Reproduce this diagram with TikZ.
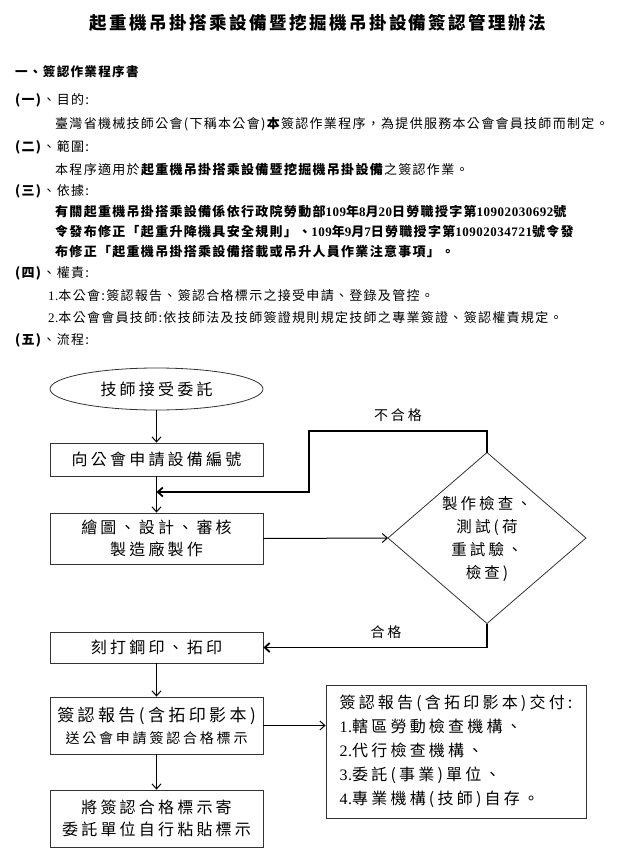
\documentclass[tikz,border=0pt]{standalone}
\usepackage{fontspec}
\usetikzlibrary{positioning,shapes.geometric,arrows.meta}
\newfontfamily\bodyfont[LetterSpace=10]{Noto Sans CJK TC}
\newfontfamily\titlefont[LetterSpace=14]{Noto Sans CJK TC}
\newfontfamily\flowfont[LetterSpace=20]{Noto Sans CJK TC}
\newfontfamily\numfont[LetterSpace=4]{Liberation Serif}
\newcommand{\Num}[1]{{\numfont #1}}

\tikzset{
	txt/.style={anchor=west, inner sep=0pt, font=\bodyfont\fontsize{13}{16}\selectfont},
	box/.style={draw=black!80, line width=0.8pt, minimum width=213pt, inner sep=0pt, align=center, font=\flowfont\fontsize{16}{22}\selectfont},
	flowtext/.style={inner sep=0pt, align=center, font=\flowfont\fontsize{15.5}{23}\selectfont},
	flow/.style={->, line width=1pt},
	loop/.style={->, line width=1.8pt},
	>={Straight Barb[length=5pt,width=9pt]},
}

\begin{document}
\begin{tikzpicture}[x=1pt,y=-1pt]
	\useasboundingbox (0,0) rectangle (616,858);
	\pgfmathsetmacro{\BoxX}{156.5}
	\pgfmathsetmacro{\TextX}{55}
	\pgfmathsetmacro{\HeadX}{15}

	% header text
	\node[inner sep=0pt, font=\titlefont\bfseries\fontsize{17.5}{20}\selectfont] (Title) at (318,23) {起重機吊掛搭乘設備暨挖掘機吊掛設備簽認管理辦法};
	\node[txt, font=\bodyfont\bfseries\fontsize{12.6}{16}\selectfont] (Heading) at (\HeadX,72) {一、簽認作業程序書};

	\node[txt] (PurposeHead) at (\HeadX,100) {\textbf{(一)}、目的:};
	\node[txt] (Purpose) at (\TextX,124) {臺灣省機械技師公會(下稱本公會)\textbf{本}簽認作業程序，為提供服務本公會會員技師而制定。};
	\node[txt] (ScopeHead) at (\HeadX,147) {\textbf{(二)}、範圍:};
	\node[txt] (Scope) at (\TextX,170) {本程序適用於\textbf{起重機吊掛搭乘設備暨挖掘機吊掛設備}之簽認作業。};
	\node[txt] (BasisHead) at (\HeadX,191) {\textbf{(三)}、依據:};
	\node[txt, font=\bodyfont\bfseries\fontsize{13}{16}\selectfont] (BasisA) at (\TextX,212) {有關起重機吊掛搭乘設備係依行政院勞動部\Num{109}年\Num{8}月\Num{20}日勞職授字第\Num{10902030692}號};
	\node[txt, font=\bodyfont\bfseries\fontsize{13}{16}\selectfont] (BasisB) at (\TextX,232) {令發布修正「起重升降機具安全規則」、\Num{109}年\Num{9}月\Num{7}日勞職授字第\Num{10902034721}號令發};
	\node[txt, font=\bodyfont\bfseries\fontsize{13}{16}\selectfont] (BasisC) at (\TextX,252) {布修正「起重機吊掛搭乘設備搭載或吊升人員作業注意事項」。};
	\node[txt] (DutyHead) at (\HeadX,273) {\textbf{(四)}、權責:};
	\node[txt] (DutyA) at (48,296) {\Num{1.}本公會:簽認報告、簽認合格標示之接受申請、登錄及管控。};
	\node[txt] (DutyB) at (48,318) {\Num{2.}本公會會員技師:依技師法及技師簽證規則規定技師之專業簽證、簽認權責規定。};
	\node[txt] (FlowHead) at (\HeadX,340) {\textbf{(五)}、流程:};

	% flow chart
	\node[box, ellipse, minimum height=42pt] (Start) at (\BoxX,389) {技師接受委託};
	\node[box, minimum height=33pt] (Apply) at (\BoxX,459.5) {向公會申請設備編號};
	\node[box, minimum height=51pt] (Design) at (\BoxX,538.5) {繪圖、設計、審核\\製造廠製作};
	\node[box, minimum height=31pt] (Stamp) at (\BoxX,647.5) {刻打鋼印、拓印};
	\node[box, minimum height=57pt] (Report) at (\BoxX,725.5) {{\fontsize{17}{22}\selectfont 簽認報告(含拓印影本)}\\{\fontsize{14}{20}\selectfont 送公會申請簽認合格標示}};
	\node[box, minimum height=57pt] (Label) at (\BoxX,818.5) {將簽認合格標示寄\\委託單位自行粘貼標示};
	\node[box, minimum width=260pt, minimum height=133pt, align=left, font=\flowfont\fontsize{16}{24}\selectfont] (Deliver) at (456,751.5) {簽認報告(含拓印影本)交付:\\\Num{1.}轄區勞動檢查機構、\\\Num{2.}代行檢查機構、\\\Num{3.}委託(事業)單位、\\\Num{4.}專業機構(技師)自存。};

	\coordinate (CheckTop) at (487,452.5);
	\coordinate (CheckRight) at (586,538);
	\coordinate (CheckBottom) at (487,623.5);
	\coordinate (CheckLeft) at (388,538);
	\draw[draw=black!80, line width=0.8pt] (CheckTop) -- (CheckRight) -- (CheckBottom) -- (CheckLeft) -- cycle;
	\node[flowtext] (Check) at (487,539) {製作檢查、\\測試(荷\\重試驗、\\檢查)};

	\draw[flow] (Start) -- (Apply);
	\draw[flow] (Apply) -- (Design);
	\draw[flow] (Design.east) -- (CheckLeft);
	\draw[flow] (Stamp) -- (Report);
	\draw[flow] (Report) -- (Label);
	\draw[flow] (Report.east) -- (Report.east -| Deliver.west);

	% fail and pass
	\coordinate (FailCorner) at (309,431);
	\coordinate (Join) at (\BoxX,492);
	\draw[loop] (CheckTop) |- (FailCorner) |- (Join);
	\node[flowtext, font=\flowfont\fontsize{14}{16}\selectfont] (Fail) at (398,415) {不合格};
	\draw[loop] (CheckBottom) |- (Stamp.east);
	\node[flowtext, font=\flowfont\fontsize{14}{16}\selectfont] (Pass) at (386,632) {合格};
\end{tikzpicture}
\end{document}
